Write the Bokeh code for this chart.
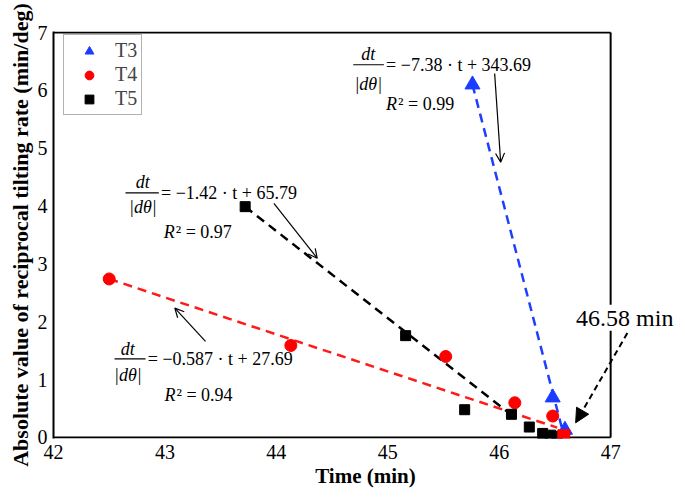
from bokeh.plotting import figure
from bokeh.models import Range1d, FixedTicker, Legend, LegendItem, Arrow, OpenHead, NormalHead, Label
from bokeh.core.properties import value
from bokeh.embed import file_html
from bokeh.resources import INLINE

# ---- data ----
t3_time = [45.76, 46.48, 46.59]
t3_rate = [6.10, 0.69, 0.13]
t4_time = [42.50, 44.13, 45.52, 46.14, 46.48]
t4_rate = [2.74, 1.59, 1.40, 0.60, 0.37]
t4_end_time = [46.58]
t4_end_rate = [0.03]
t5_time = [43.72, 45.16, 45.69, 46.11, 46.27, 46.39, 46.46, 46.52]
t5_rate = [3.99, 1.76, 0.48, 0.40, 0.18, 0.07, 0.04, 0.02]

fit3_time = [45.76, 46.57]
fit3_rate = [6.10, 0.11]
fit4_time = [42.50, 46.52]
fit4_rate = [2.74, 0.17]
fit5_time = [43.72, 46.13]
fit5_rate = [3.99, 0.36]

x_ticks = [42, 43, 44, 45, 46, 47]
y_ticks = [0, 1, 2, 3, 4, 5, 6, 7]

FONT = "Liberation Serif"

x_lo, x_hi = x_ticks[0], x_ticks[-1]
y_lo, y_hi = y_ticks[0], y_ticks[-1]

p = figure(width=677, height=493, x_range=Range1d(x_lo, 47.6), y_range=Range1d(-0.018, 7.018),
           output_backend="svg", toolbar_location=None,
           min_border_left=53, min_border_right=0, min_border_top=31, min_border_bottom=55)
p.grid.visible = False
p.outline_line_color = None

p.xaxis.ticker = FixedTicker(ticks=x_ticks)
p.yaxis.ticker = FixedTicker(ticks=y_ticks)
for ax in (p.xaxis, p.yaxis):
    ax.axis_line_color = "black"
    ax.axis_line_width = 2
    ax.major_tick_line_color = None
    ax.minor_tick_line_color = None
    ax.major_tick_out = 0
    ax.major_tick_in = 0
    ax.minor_tick_out = 0
    ax.major_label_text_font = FONT
    ax.major_label_text_font_size = "20px"
    ax.major_label_text_color = "black"
    ax.axis_label_text_font = FONT
    ax.axis_label_text_font_style = "bold"
    ax.axis_label_text_color = "black"
p.xaxis.axis_line_color = None
p.xaxis.axis_label = "Time (min)"
p.xaxis.axis_label_text_font_size = "21px"
p.xaxis.major_label_standoff = 6
p.xaxis.axis_label_standoff = 2
p.yaxis.axis_label = "Absolute value of reciprocal tilting rate (min/deg)"
p.yaxis.axis_label_text_font_size = "22px"
p.yaxis.major_label_standoff = 6
p.yaxis.axis_label_standoff = 2

# frame box (bottom, right, top)
p.segment([x_lo, x_hi, x_lo], [y_lo, y_lo, y_hi], [x_hi, x_hi, x_hi], [y_lo, y_hi, y_hi],
          line_color="black", line_width=2)

# fit lines
p.line(fit3_time, fit3_rate, line_color="#1f3fff", line_width=2.5, line_dash="9 6")
p.line(fit4_time, fit4_rate, line_color="#ff1a1a", line_width=2.5, line_dash="9 6")
p.line(fit5_time, fit5_rate, line_color="black", line_width=2.5, line_dash="9 6")

# markers
r3 = p.scatter(t3_time, t3_rate, marker="triangle", size=15, fill_color="#1a3cff", line_color="#1a3cff")
r4 = p.scatter(t4_time, t4_rate, marker="circle", size=12, fill_color="#ff0000", line_color="#ff0000")
r5 = p.scatter(t5_time, t5_rate, marker="square", size=10, fill_color="black", line_color="black")
p.scatter(t4_end_time, t4_end_rate, marker="square", size=12, fill_color="#ff0000", line_color="#ff0000")

# equations
eq_style = dict(text_font=value(FONT), text_font_size="18px", text_color="black")
it_style = dict(text_font=value(FONT), text_font_size="18px", text_color="black", text_font_style="italic")

eq_dt_x = [44.825, 42.802, 42.667]
eq_dt_y = [6.633, 4.419, 1.529]
eq_den_y = [6.116, 3.988, 1.086]
bar_x0 = [44.690, 42.646, 42.548]
bar_x1 = [44.965, 42.945, 42.826]
bar_y = [6.443, 4.229, 1.357]
eq_x = [44.985, 42.965, 42.846]
eq_text = ["= \u22127.38 \u00b7 t + 343.69", "= \u22121.42 \u00b7 t + 65.79", "= \u22120.587 \u00b7 t + 27.69"]
r2_x = [44.985, 42.990, 42.996]
r2_y = [5.771, 3.557, 0.741]
r2_text = ["\u00b2 = 0.99", "\u00b2 = 0.97", "\u00b2 = 0.94"]

p.text(eq_dt_x, eq_dt_y, text=["dt"] * 3, text_align="center", text_baseline="middle", **it_style)
p.text(eq_dt_x, eq_den_y, text=["|d\u03b8|"] * 3, text_align="center", text_baseline="middle", **it_style)
p.segment(bar_x0, bar_y, bar_x1, bar_y, line_color="black", line_width=1.2)
p.text(eq_x, bar_y, text=eq_text, text_align="left", text_baseline="middle", **eq_style)
p.text(r2_x, r2_y, text=["R"] * 3, text_align="left", text_baseline="middle", **it_style)
p.text(r2_x, r2_y, text=r2_text, text_align="left", text_baseline="middle", x_offset=12, **eq_style)

# annotation arrows
arrows = [
    (45.959, 6.293, 46.013, 4.759),
    (43.978, 4.047, 44.367, 3.098),
    (43.364, 1.660, 43.089, 2.236),
]
for xs, ys, xe, ye in arrows:
    p.add_layout(Arrow(x_start=xs, y_start=ys, x_end=xe, y_end=ye, line_width=1.2, line_color="black",
                       end=OpenHead(size=9, line_width=1.2, line_color="black")))
p.add_layout(Arrow(x_start=47.150, y_start=1.805, x_end=46.686, y_end=0.253, line_width=2, line_color="black",
                   line_dash="6 4",
                   end=NormalHead(size=14, fill_color="black", line_color="black")))

p.add_layout(Label(x=46.69, y=2.07, text="46.58 min", text_font=FONT, text_font_size="24px",
                   text_baseline="middle", text_color="black",
                   background_fill_color="white", background_fill_alpha=1))

legend = Legend(items=[LegendItem(label="T3", renderers=[r3]),
                       LegendItem(label="T4", renderers=[r4]),
                       LegendItem(label="T5", renderers=[r5])],
                location=(10, 323), padding=4, spacing=1, label_height=22, glyph_height=22,
                glyph_width=42, label_standoff=5, label_text_font=FONT, label_text_font_size="20px",
                border_line_color="#666666", border_line_width=1.5, background_fill_alpha=1, margin=0)
p.add_layout(legend)

open("out.html", "w").write(file_html(p, INLINE))
